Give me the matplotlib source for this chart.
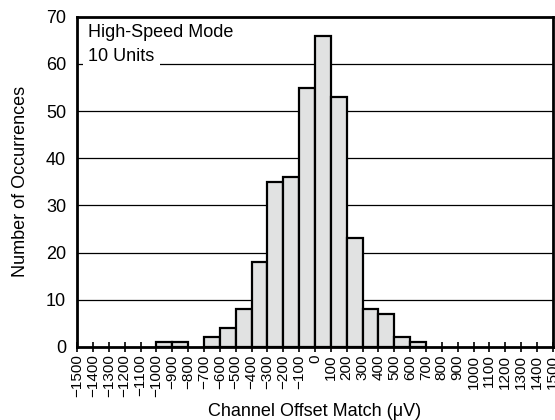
import numpy as np
import matplotlib.pyplot as plt

plt.rcParams['font.family'] = ['Liberation Sans', 'DejaVu Sans']

# bin left edges (uV) and counts
bin_left = [-1000, -900, -700, -600, -500, -400, -300, -200, -100, 0, 100, 200, 300, 400, 500, 600]
counts = [1, 1, 2, 4, 8, 18, 35, 36, 55, 66, 53, 23, 8, 7, 2, 1]
ticks = list(range(-1500, 1501, 100))
tick_labels = [str(t).replace('-', '\u2212') for t in ticks]

fig = plt.figure(figsize=(5.55, 4.2), dpi=100)
ax = fig.add_axes([0.139, 0.174, 0.857, 0.786])

ax.bar(bin_left, counts, width=100, align='edge', color='#e1e2e2',
       edgecolor='black', linewidth=1.6, zorder=3)

ax.set_xlim(-1500, 1500)
ax.set_ylim(0, 70)
ax.set_yticks(range(0, 71, 10))
ax.set_xticks(ticks)
ax.set_xticklabels(tick_labels, rotation=90, fontsize=11)
ax.tick_params(axis='x', direction='inout', length=7, width=1.2, pad=2)
ax.tick_params(axis='y', length=0, labelsize=13, pad=8)

for y in range(10, 70, 10):
    ax.axhline(y, color='black', linewidth=0.9, zorder=1)

for s in ax.spines.values():
    s.set_linewidth(2)
    s.set_zorder(4)

ax.text(-1430, 66.6, 'High-Speed Mode', fontsize=13, va='center', ha='left')
ax.text(-1430, 61.5, '10 Units', fontsize=13, va='center', ha='left',
        bbox=dict(facecolor='white', edgecolor='none', pad=4), zorder=2)

ax.set_xlabel('Channel Offset Match (\u03bcV)', fontsize=13, labelpad=4)
ax.set_ylabel('Number of Occurrences', fontsize=13, labelpad=12)

fig.savefig('out.png', dpi=100)
